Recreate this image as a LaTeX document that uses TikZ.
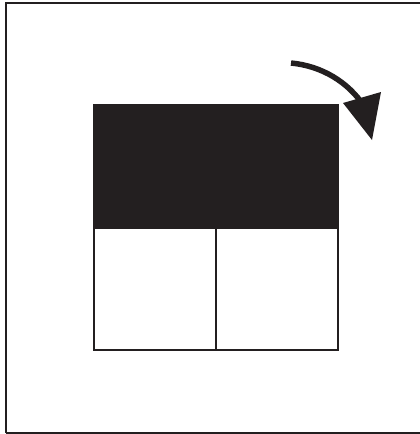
\documentclass[tikz,border=0pt]{standalone}
\definecolor{ink}{HTML}{231F20}
\tikzset{frameline/.style={draw=ink,line width=2.3pt},
boxline/.style={draw=ink,line width=2.5pt}}
\begin{document}
\begin{tikzpicture}[x=1pt,y=-1pt]
\useasboundingbox (0,0) rectangle (420,434);
\clip (0,0) rectangle (420,434);
% outer frame (right side beyond picture)
\draw[frameline] (6,433) -- (6,3) -- (425,3);
\draw[frameline] (6,433) -- (425,433);
% lower two boxes
\draw[boxline] (93.8,228) rectangle (337.8,350);
\draw[boxline] (216,228) -- (216,350);
% black top block
\fill[ink] (92.5,104) rectangle (339,229);
% rotation arrow
\draw[ink,line width=5.5pt] (291,63) .. controls (322,66) and (348,82) .. (364,106);
\fill[ink] (343,103) -- (381,92) -- (372,140) -- cycle;
\end{tikzpicture}
\end{document}
